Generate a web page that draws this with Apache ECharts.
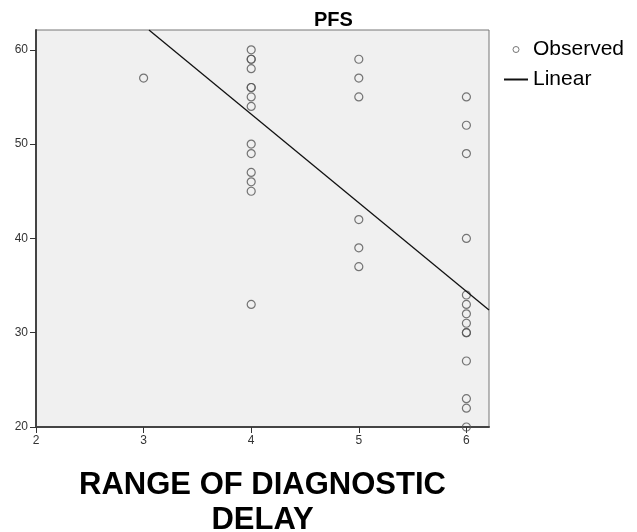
<!DOCTYPE html>
<html>
<head>
<meta charset="utf-8">
<script src="https://cdn.jsdelivr.net/npm/echarts@6/dist/echarts.min.js"></script>
<style>
  html, body { margin: 0; padding: 0; background: #fff; }
  #chart { width: 637px; height: 532px; }
</style>
</head>
<body>
<div id="chart"></div>
<script>
// observed points (range of diagnostic delay, PFS)
var delayValues = [
  3,
  4, 4, 4, 4, 4, 4, 4, 4, 4, 4, 4, 4, 4, 4,
  5, 5, 5, 5, 5, 5,
  6, 6, 6, 6, 6, 6, 6, 6, 6, 6, 6, 6, 6, 6
];
var pfsValues = [
  57,
  60, 59, 59, 58, 56, 56, 55, 54, 50, 49, 47, 46, 45, 33,
  59, 57, 55, 42, 39, 37,
  55, 52, 49, 40, 34, 33, 32, 31, 30, 30, 27, 23, 22, 20
];

// linear fit line at its two ends
var fitX = [3.05, 6.21];
var fitY = [62.1, 32.4];

var xTicks = [2, 3, 4, 5, 6];
var yTicks = [20, 30, 40, 50, 60];

var observed = delayValues.map(function (d, i) { return [d, pfsValues[i]]; });
var linear = fitX.map(function (d, i) { return [d, fitY[i]]; });

var chart = echarts.init(document.getElementById("chart"));

var option = {
  animation: false,
  backgroundColor: "#fff",
  textStyle: { fontFamily: "Liberation Sans, Arial, sans-serif" },
  title: {
    text: "PFS",
    left: 309,
    top: 5,
    textStyle: { fontSize: 20, fontWeight: "bold", color: "#000" }
  },
  legend: {
    orient: "vertical",
    left: 503,
    top: 39,
    padding: 0,
    itemWidth: 24,
    itemHeight: 6,
    itemGap: 9,
    textStyle: { fontSize: 21, color: "#000", lineHeight: 21 },
    data: [
      { name: "Observed", itemStyle: { borderWidth: 1 } },
      { name: "Linear", itemStyle: { opacity: 0 } }
    ]
  },
  grid: {
    left: 36,
    top: 30,
    right: 148,
    bottom: 105,
    outerBoundsMode: "none",
    show: true,
    backgroundColor: "#f0f0f0",
    borderColor: "#777",
    borderWidth: 1
  },
  xAxis: {
    type: "value",
    min: 2,
    max: 6.21,
    interval: 1,
    name: "RANGE OF DIAGNOSTIC\nDELAY",
    nameLocation: "middle",
    nameGap: 41,
    nameTextStyle: {
      fontSize: 31,
      fontWeight: "bold",
      color: "#000",
      lineHeight: 35
    },
    splitLine: { show: false },
    axisLine: { lineStyle: { color: "#444", width: 2 } },
    axisTick: {
      length: 6,
      lineStyle: { color: "#333", width: 1 },
      customValues: xTicks
    },
    axisLabel: {
      fontSize: 12,
      color: "#333",
      margin: 8,
      customValues: xTicks
    }
  },
  yAxis: {
    type: "value",
    min: 20,
    max: 62.1,
    interval: 10,
    splitLine: { show: false },
    axisLine: { show: true, lineStyle: { color: "#444", width: 2 } },
    axisTick: {
      show: true,
      length: 6,
      lineStyle: { color: "#333", width: 1 },
      customValues: yTicks
    },
    axisLabel: {
      fontSize: 12,
      color: "#333",
      margin: 8,
      customValues: yTicks
    }
  },
  series: [
    {
      name: "Observed",
      type: "scatter",
      symbol: "circle",
      symbolSize: 8,
      itemStyle: {
        color: "transparent",
        borderColor: "#555",
        borderWidth: 1.2
      },
      data: observed
    },
    {
      name: "Linear",
      type: "line",
      symbol: "none",
      lineStyle: { color: "#111", width: 1.3 },
      data: linear
    }
  ]
};

chart.setOption(option);
</script>
</body>
</html>
